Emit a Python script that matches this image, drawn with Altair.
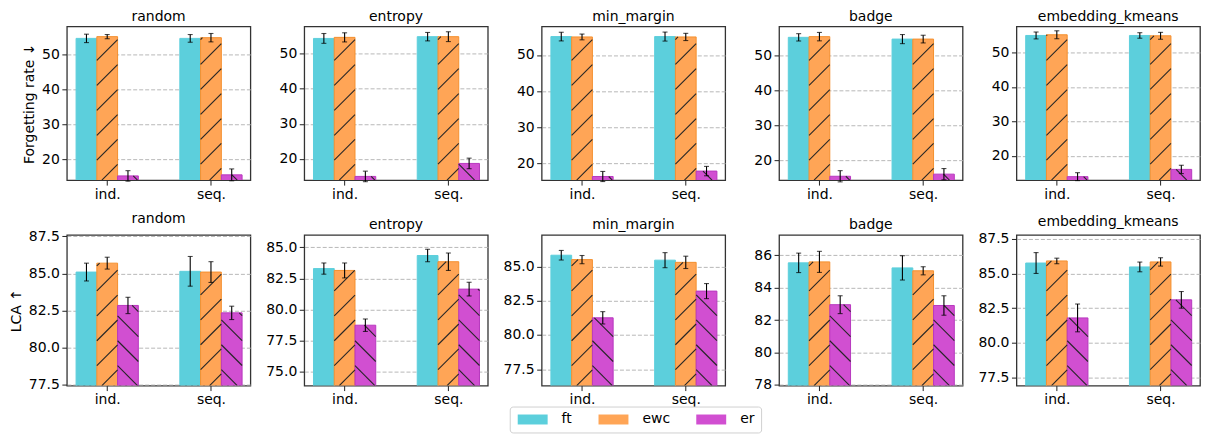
import altair as alt
import pandas as pd

strategies = ["random", "entropy", "min_margin", "badge", "embedding_kmeans"]
groups = ["ind.", "seq."]
methods = ["ft", "ewc", "er"]
fill_colors = ["#5ccfdc", "#ffa556", "#d14fd1"]
edge_colors = ["#5ccfdc", "#f4902e", "#b838bf"]
hatches = ["", "/", "\\"]

# Forgetting rate (order: ind ft, ind ewc, ind er, seq ft, seq ewc, seq er)
fr_random = [54.5, 55.0, 15.2, 54.5, 54.7, 15.5]
fr_random_err = [1.2, 0.6, 1.5, 1.1, 1.2, 1.7]
fr_entropy = [54.3, 54.6, 15.0, 54.8, 54.8, 18.7]
fr_entropy_err = [1.4, 1.3, 1.5, 1.2, 1.4, 1.5]
fr_min_margin = [55.1, 55.0, 16.3, 55.1, 55.0, 17.8]
fr_min_margin_err = [1.2, 0.8, 1.4, 1.25, 1.0, 1.3]
fr_badge = [55.1, 55.3, 15.4, 54.6, 54.6, 16.0]
fr_badge_err = [1.05, 1.2, 1.6, 1.3, 1.1, 1.6]
fr_embedding_kmeans = [54.9, 55.1, 14.0, 54.9, 54.8, 16.1]
fr_embedding_kmeans_err = [1.0, 1.15, 1.15, 0.8, 1.0, 1.2]

# LCA
lca_random = [85.1, 85.7, 82.85, 85.15, 85.1, 82.35]
lca_random_err = [0.6, 0.4, 0.55, 1.0, 0.7, 0.45]
lca_entropy = [83.3, 83.15, 78.75, 84.35, 83.85, 81.65]
lca_entropy_err = [0.45, 0.6, 0.5, 0.5, 0.7, 0.55]
lca_min_margin = [85.82, 85.5, 81.25, 85.46, 85.3, 83.2]
lca_min_margin_err = [0.35, 0.3, 0.45, 0.55, 0.45, 0.55]
lca_badge = [85.53, 85.59, 82.95, 85.22, 85.04, 82.9]
lca_badge_err = [0.6, 0.65, 0.55, 0.75, 0.25, 0.6]
lca_embedding_kmeans = [85.75, 85.9, 81.8, 85.47, 85.83, 83.1]
lca_embedding_kmeans_err = [0.75, 0.2, 1.0, 0.35, 0.3, 0.6]

# axis ranges
fr_ylims = [[14.0, 57.9], [13.95, 57.7], [15.3, 57.9], [14.3, 58.2], [13.0, 57.5]]
fr_ticks = [[20, 30, 40, 50]] * 5
lca_ylims = [[77.45, 87.6], [73.9, 86.0], [76.3, 87.3], [77.96, 87.25], [76.93, 87.77]]
lca_ticks = [
    [77.5, 80.0, 82.5, 85.0, 87.5],
    [75.0, 77.5, 80.0, 82.5, 85.0],
    [77.5, 80.0, 82.5, 85.0],
    [78, 80, 82, 84, 86],
    [77.5, 80.0, 82.5, 85.0, 87.5],
]
lca_formats = [".1f", ".1f", ".1f", "d", ".1f"]

fr_means = [fr_random, fr_entropy, fr_min_margin, fr_badge, fr_embedding_kmeans]
fr_errs = [fr_random_err, fr_entropy_err, fr_min_margin_err, fr_badge_err, fr_embedding_kmeans_err]
lca_means = [lca_random, lca_entropy, lca_min_margin, lca_badge, lca_embedding_kmeans]
lca_errs = [lca_random_err, lca_entropy_err, lca_min_margin_err, lca_badge_err, lca_embedding_kmeans_err]

BAR_W = 0.2
XDOM = [-0.389, 1.38]
PANEL_W = 184
HATCH_S = 25.0
FONT = "DejaVu Sans"

label_expr = " : ".join(
    [f"datum.value == {i} ? '{g}'" for i, g in enumerate(groups)]
) + " : ''"


def hatch_segments(pos, val, ydom, height, kind):
    xs = PANEL_W / (XDOM[1] - XDOM[0])
    ys = height / (ydom[1] - ydom[0])
    xl = pos - BAR_W / 2
    W = BAR_W * xs
    top = min(val, ydom[1])
    H = (top - ydom[0]) * ys
    segs = []
    if H <= 0:
        return segs
    xl_px = (xl - XDOM[0]) * xs
    phase = -(xl_px % HATCH_S)
    kmin = int(-(W + H) / HATCH_S) - 3
    kmax = int((W + H) / HATCH_S) + 3
    for k in range(kmin, kmax):
        c = k * HATCH_S + phase
        if kind == "/":
            u0, u1 = max(0.0, -c), min(W, H - c)
            if u1 - u0 < 0.5:
                continue
            v0, v1 = u0 + c, u1 + c
        else:
            u0, u1 = max(0.0, W + c - H), min(W, W + c)
            if u1 - u0 < 0.5:
                continue
            v0, v1 = W - u0 + c, W - u1 + c
        segs.append({
            "hx": xl + u0 / xs, "hx2": xl + u1 / xs,
            "hy": ydom[0] + v0 / ys, "hy2": ydom[0] + v1 / ys,
        })
    return segs


def panel(title, means, errs, ydom, ticks, fmt, ytitle, height):
    rows, hrows = [], []
    for gi, g in enumerate(groups):
        for mi, m in enumerate(methods):
            i = gi * len(methods) + mi
            pos = gi + (mi - 1) * BAR_W
            rows.append({
                "group": g, "method": m, "pos": pos,
                "x0": pos - BAR_W / 2, "x1": pos + BAR_W / 2,
                "val": means[i], "lo": means[i] - errs[i], "hi": means[i] + errs[i],
            })
            if hatches[mi]:
                hrows += hatch_segments(pos, means[i], ydom, height, hatches[mi])
    df = pd.DataFrame(rows)
    hdf = pd.DataFrame(hrows)

    xscale = alt.Scale(domain=XDOM, nice=False, zero=False)
    yscale = alt.Scale(domain=ydom, nice=False, zero=False)
    xaxis = alt.Axis(values=[0, 1], labelExpr=label_expr, grid=False, title=None,
                     domain=False, tickSize=5, tickColor="#222", labelPadding=2,
                     labelFontSize=14, labelColor="black", labelFont=FONT,
                     labelAngle=0, tickCount=10)
    yaxis = alt.Axis(values=ticks, format=fmt, title=ytitle, grid=True,
                     gridDash=[4, 2], gridColor="#b0b0b0", gridWidth=0.9,
                     domain=False, tickSize=5, tickColor="#222", labelPadding=2.5,
                     labelFontSize=14, labelColor="black", labelFont=FONT,
                     labelOverlap=False, labelFlush=False, tickCount=12,
                     titleFontSize=14, titleFont=FONT, titleFontWeight="normal",
                     titleColor="black", titlePadding=5)

    base = alt.Chart(df)
    bars = base.mark_bar(clip=True, strokeWidth=1).encode(
        x=alt.X("x0:Q", scale=xscale, axis=xaxis),
        x2="x1:Q",
        y=alt.Y("val:Q", scale=yscale, axis=yaxis),
        y2=alt.datum(0),
        color=alt.Color(
            "method:N",
            scale=alt.Scale(domain=methods, range=fill_colors),
            legend=alt.Legend(
                orient="none", legendX=444, legendY=381, direction="horizontal",
                columns=3, title=None,
                symbolType="M-1,-1H5V1H-1Z", symbolSize=100,
                symbolStrokeWidth=0, symbolOpacity=1,
                labelFontSize=14, labelFont=FONT, labelColor="black",
                labelOffset=32, columnPadding=24, padding=6,
                strokeColor="#d0d0d0", cornerRadius=3, fillColor="white",
            ),
        ),
        stroke=alt.Stroke(
            "method:N",
            scale=alt.Scale(domain=methods, range=edge_colors),
            legend=None,
        ),
    )
    hatch = alt.Chart(hdf).mark_rule(clip=True, color="#262626", strokeWidth=1.1).encode(
        x=alt.X("hx:Q", scale=xscale), x2="hx2:Q",
        y=alt.Y("hy:Q", scale=yscale), y2="hy2:Q",
    )
    ebar = base.mark_rule(color="black", strokeWidth=1.1).encode(
        x=alt.X("pos:Q", scale=xscale), y=alt.Y("lo:Q", scale=yscale), y2="hi:Q",
    )
    cap_lo = base.mark_tick(color="black", orient="horizontal", size=5, thickness=1.1).encode(
        x=alt.X("pos:Q", scale=xscale), y=alt.Y("lo:Q", scale=yscale),
    )
    cap_hi = base.mark_tick(color="black", orient="horizontal", size=5, thickness=1.1).encode(
        x=alt.X("pos:Q", scale=xscale), y=alt.Y("hi:Q", scale=yscale),
    )
    return alt.layer(bars, hatch, ebar, cap_lo, cap_hi).properties(
        width=PANEL_W, height=height,
        title=alt.TitleParams(title, fontSize=14, font=FONT, fontWeight="normal",
                              color="black", offset=3, frame="group",
                              anchor="middle"),
    )


panels = []
for i, s in enumerate(strategies):
    panels.append(panel(s, fr_means[i], fr_errs[i], fr_ylims[i], fr_ticks[i], "d",
                        "Forgetting rate  ↓" if i == 0 else None, 154))
for i, s in enumerate(strategies):
    panels.append(panel(s, lca_means[i], lca_errs[i], lca_ylims[i], lca_ticks[i],
                        lca_formats[i], "LCA  ↑" if i == 0 else None, 151))

chart = alt.concat(*panels, columns=5, spacing={"column": 54, "row": 55},
                   bounds="flush").properties(
    padding={"left": 0, "top": 0, "right": 0, "bottom": 0},
).configure(
    font=FONT,
    view=alt.ViewConfig(stroke="#333333", strokeWidth=1.3),
)

chart.save("out.html", embed_options={"renderer": "svg", "actions": False})
